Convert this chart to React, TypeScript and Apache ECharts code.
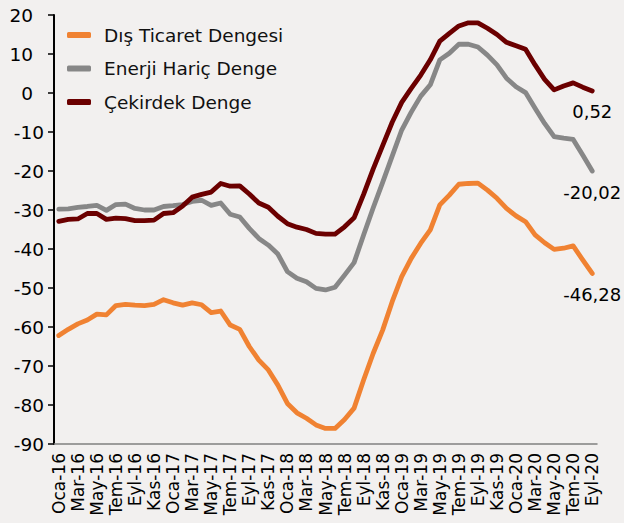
import React, { useEffect, useRef } from "react";
import * as echarts from "echarts";

const monthNames = ["Oca", "Şub", "Mar", "Nis", "May", "Haz", "Tem", "Ağu", "Eyl", "Eki", "Kas", "Ara"];
const years = ["16", "17", "18", "19", "20"];
const lastMonthIndex2020 = 8; // Eyl-20

const categories: string[] = [];
years.forEach((y, yi) => {
  monthNames.forEach((m, mi) => {
    if (yi === years.length - 1 && mi > lastMonthIndex2020) return;
    categories.push(`${m}-${y}`);
  });
});

const seriesNames = ["Dış Ticaret Dengesi", "Enerji Hariç Denge", "Çekirdek Denge"];

const disTicaret = [
  -62.2, -60.6, -59.2, -58.2, -56.7, -56.9, -54.5, -54.2, -54.4, -54.5, -54.2, -53.0,
  -53.8, -54.4, -53.8, -54.3, -56.3, -55.9, -59.5, -60.6, -65.0, -68.5, -71.0, -74.9,
  -79.6, -82.0, -83.4, -85.1, -86.0, -86.0, -83.7, -80.8, -73.6, -66.8, -60.8, -53.5,
  -47.1, -42.4, -38.5, -35.1, -28.7, -26.2, -23.4, -23.2, -23.1, -24.9, -27.0, -29.6,
  -31.5, -33.0, -36.4, -38.4, -40.1, -39.8, -39.2, -42.8, -46.28,
];

const enerjiHaric = [
  -29.8, -29.7, -29.3, -29.1, -28.8, -30.1, -28.6, -28.5, -29.6, -30.0, -30.0, -29.1,
  -28.9, -28.6, -27.8, -27.5, -28.8, -28.2, -31.1, -31.8, -34.7, -37.3, -39.0, -41.3,
  -45.8, -47.5, -48.4, -50.1, -50.5, -49.8, -46.7, -43.5, -36.4, -29.5, -22.9, -16.2,
  -9.5, -4.9, -0.8, 2.1, 8.5, 10.2, 12.5, 12.5, 11.8, 9.7, 7.2, 3.8,
  1.6, 0.1, -3.9, -7.8, -11.2, -11.6, -11.9, -15.9, -20.02,
];

const cekirdek = [
  -32.9, -32.4, -32.3, -30.9, -30.9, -32.4, -32.1, -32.2, -32.7, -32.7, -32.6, -30.9,
  -30.7, -29.0, -26.7, -26.0, -25.4, -23.2, -23.9, -23.8, -25.9, -28.2, -29.3, -31.6,
  -33.5, -34.4, -35.0, -36.0, -36.2, -36.2, -34.3, -32.0, -26.0, -19.5, -13.5, -7.5,
  -2.4, 1.2, 4.6, 8.5, 13.3, 15.3, 17.2, 18.0, 18.0, 16.6, 15.0, 13.0,
  12.1, 11.2, 7.2, 3.5, 0.8, 1.8, 2.6, 1.5, 0.52,
];

const endLabels = ["-46,28", "-20,02", "0,52"];
const colors = ["#F08232", "#878787", "#6B0000"];
const yMin = -90;
const yMax = 20;
const yStep = 10;

const FONT = "DejaVu Sans";

function buildData(values: number[], label: string) {
  return values.map((v, i) =>
    i === values.length - 1
      ? {
          value: v,
          label: {
            show: true,
            position: "bottom",
            distance: 12,
            formatter: label,
            fontSize: 18,
            fontFamily: FONT,
            color: "#000",
          },
        }
      : { value: v, label: { show: false } }
  );
}

export default function App() {
  const ref = useRef<HTMLDivElement>(null);

  useEffect(() => {
    if (!ref.current) return;
    const chart = echarts.init(ref.current, undefined, { renderer: "svg" });
    const allSeries = [disTicaret, enerjiHaric, cekirdek];
    chart.setOption({
      animation: false,
      backgroundColor: "#F2F0EF",
      textStyle: { fontFamily: FONT },
      grid: { left: 54, right: 27, top: 15, bottom: 79, containLabel: false },
      legend: {
        data: seriesNames,
        orient: "vertical",
        left: 62,
        top: 20,
        icon: "roundRect",
        itemWidth: 24,
        itemHeight: 6,
        itemGap: 13.5,
        textStyle: {
          fontSize: 18.5,
          fontFamily: FONT,
          color: "#111",
          lineHeight: 20,
          padding: [0, 0, 0, 8],
        },
      },
      xAxis: {
        type: "category",
        data: categories,
        boundaryGap: true,
        axisLine: { show: true, onZero: false, lineStyle: { color: "#808080", width: 1.5 } },
        axisTick: { show: false },
        axisLabel: {
          interval: 1,
          rotate: 90,
          fontSize: 17,
          fontFamily: FONT,
          color: "#000",
          margin: 9,
        },
        splitLine: { show: false },
      },
      yAxis: {
        type: "value",
        min: yMin,
        max: yMax,
        interval: yStep,
        axisLine: { show: true, lineStyle: { color: "#000", width: 2 } },
        axisTick: { show: true, length: 6, lineStyle: { color: "#000", width: 1.5 } },
        axisLabel: {
          fontSize: 18.5,
          fontFamily: FONT,
          color: "#000",
          margin: 10,
          formatter: (v: number) => (v >= 0 ? `${v}{s| }` : `${v}`),
          rich: { s: { width: 11, fontSize: 18.5 } },
        },
        splitLine: { show: false },
      },
      series: allSeries.map((vals, idx) => ({
        name: seriesNames[idx],
        type: "line",
        data: buildData(vals, endLabels[idx]),
        symbol: "circle",
        symbolSize: 0,
        showSymbol: true,
        itemStyle: { color: colors[idx] },
        lineStyle: { color: colors[idx], width: 4.8, cap: "round", join: "round" },
        z: idx + 2,
      })),
    });
    return () => chart.dispose();
  }, []);

  return (
    <div
      ref={ref}
      style={{ position: "fixed", left: 0, top: 0, width: 624, height: 523 }}
    />
  );
}
